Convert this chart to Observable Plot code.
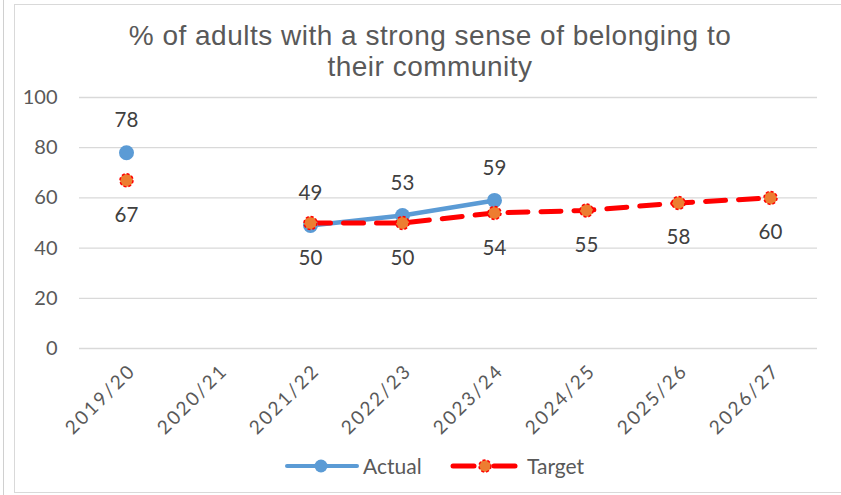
<!DOCTYPE html>
<html>
<head>
<meta charset="utf-8">
<script src="https://cdn.jsdelivr.net/npm/d3@7"></script>
<script src="https://cdn.jsdelivr.net/npm/@observablehq/plot@0.6"></script>
<style>
  body { margin: 0; background: #fff; }
  #wrap { position: relative; width: 841px; height: 495px; overflow: hidden; font-family: "Lato", "Liberation Sans", sans-serif; }
  #vline { position: absolute; left: 3px; top: 0; width: 1px; height: 495px; background: #d0d0d0; }
  #box { position: absolute; left: 14px; top: 4px; width: 840px; height: 489px; border: 1px solid #d9d9d9; box-sizing: border-box; }
  #title { position: absolute; left: 0; width: 860px; top: 20px; text-align: center; font-family: "Liberation Sans", Arial, sans-serif; font-size: 28px; letter-spacing: 0.5px; line-height: 31px; color: #595959; }
  #legend { position: absolute; top: 452px; left: 0; width: 841px; height: 28px; }
  #legend .item { position: absolute; display: flex; align-items: center; font-size: 21px; color: #595959; }
  #chart { position: absolute; left: 0; top: 0; }
  #chart svg g[aria-label="x-axis tick label"] text { letter-spacing: 2.2px; }
</style>
</head>
<body>
<div id="wrap">
  <div id="vline"></div>
  <div id="box"></div>
  <div id="chart"></div>
  <div id="title">% of adults with a strong sense of belonging to<br>their community</div>
  <div id="legend">
    <div class="item" style="left:285px;top:1px">
      <svg width="74" height="14"><line x1="2" y1="7" x2="72" y2="7" stroke="#5b9bd5" stroke-width="4" stroke-linecap="round"/><circle cx="36" cy="7" r="6.5" fill="#5b9bd5"/></svg>
      <span style="margin-left:4px">Actual</span>
    </div>
    <div class="item" style="left:450px;top:1px">
      <svg width="68" height="14"><line x1="3" y1="7" x2="24" y2="7" stroke="#ff0000" stroke-width="5" stroke-linecap="round"/><line x1="44" y1="7" x2="65" y2="7" stroke="#ff0000" stroke-width="5" stroke-linecap="round"/><circle cx="35" cy="7" r="6" fill="#ed7d31" stroke="#ff0000" stroke-width="1.5" stroke-dasharray="3,2"/></svg>
      <span style="margin-left:9px">Target</span>
    </div>
  </div>
</div>
<script>
const years = ["2019/20","2020/21","2021/22","2022/23","2023/24","2024/25","2025/26","2026/27"];
const actual = [78, null, 49, 53, 59, null, null, null];
const target = [67, null, 50, 50, 54, 55, 58, 60];
const yTicks = [0, 20, 40, 60, 80, 100];

const actualData = years.map((y, i) => ({year: y, value: actual[i]}));
const targetData = years.map((y, i) => ({year: y, value: target[i]}));
const actualPts = actualData.filter(d => d.value != null);
const targetPts = targetData.filter(d => d.value != null);

const chart = Plot.plot({
  width: 841,
  height: 495,
  marginLeft: 79,
  marginRight: 24,
  marginTop: 97,
  marginBottom: 147,
  style: {fontFamily: "Lato, 'Liberation Sans', sans-serif", fontSize: "20px", color: "#595959", background: "transparent"},
  x: {type: "point", domain: years, padding: 0.5, label: null},
  y: {domain: [0, 100], ticks: yTicks, label: null},
  marks: [
    Plot.gridY(yTicks, {stroke: "#d9d9d9", strokeOpacity: 1, strokeWidth: 1.3}),
    Plot.axisY({ticks: yTicks, tickSize: 0, tickPadding: 22, fontSize: 20, label: null}),
    Plot.axisX({tickSize: 0, tickPadding: 19, dx: 6, tickRotate: -45, fontSize: 19, label: null}),
    Plot.line(actualData, {x: "year", y: "value", stroke: "#5b9bd5", strokeWidth: 4.5, defined: d => d.value != null}),
    Plot.line(targetData.filter(d => d.value != null && d.year !== "2019/20"), {x: "year", y: "value", stroke: "#ff0000", strokeWidth: 5, strokeDasharray: "20,13", strokeLinecap: "round"}),
    Plot.dot(actualPts, {x: "year", y: "value", r: 7.5, fill: "#5b9bd5", stroke: "none"}),
    Plot.dot(targetPts, {x: "year", y: "value", r: 6.5, fill: "#ed7d31", stroke: "#ff0000", strokeWidth: 1.5, strokeDasharray: "3,2"}),
    Plot.text(actualPts, {x: "year", y: "value", text: d => String(d.value), dy: -32, fontSize: 20.5, fill: "#404040"}),
    Plot.text(targetPts, {x: "year", y: "value", text: d => String(d.value), dy: 35, fontSize: 20.5, fill: "#404040"})
  ]
});
document.getElementById("chart").appendChild(chart);
</script>
</body>
</html>
